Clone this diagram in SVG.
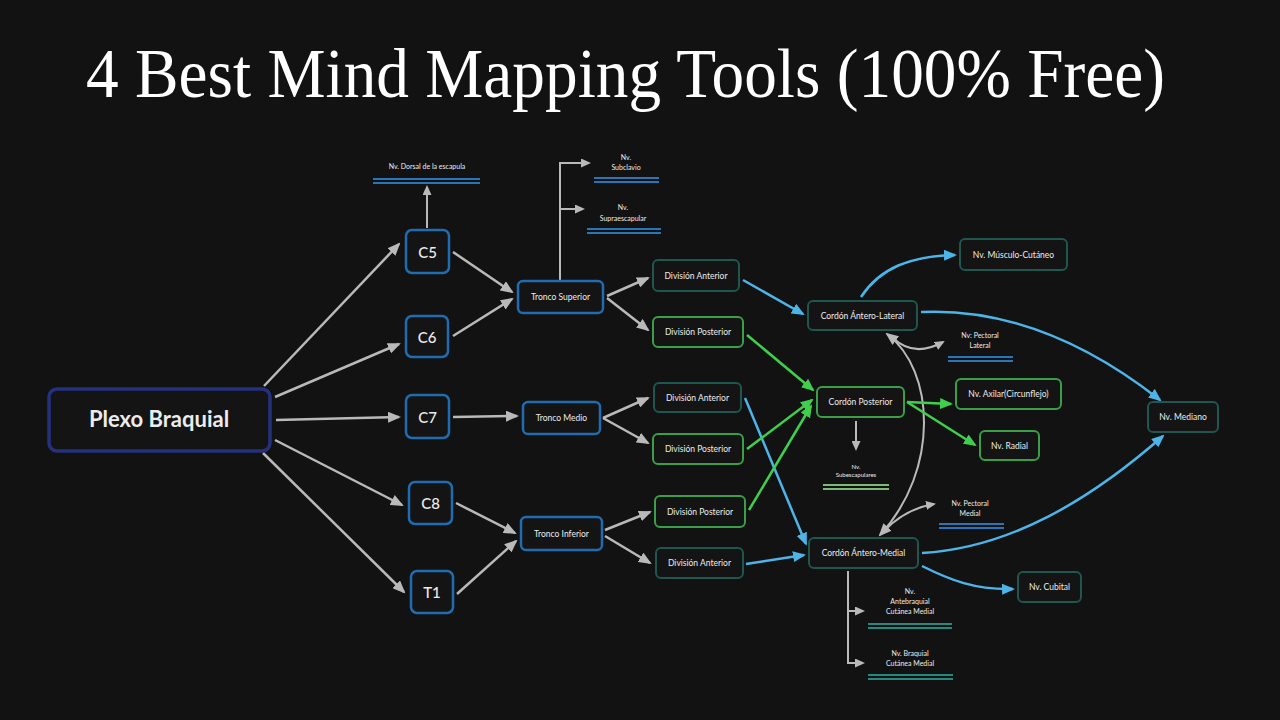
<svg xmlns="http://www.w3.org/2000/svg" width="1280" height="720" viewBox="0 0 1280 720">
<defs>
<style>
.bg{fill:#121212}
.box{fill:#141414;stroke-width:2}
.plexo{stroke:#25307f;stroke-width:3.5}
.blue{stroke:#1f6cb0;stroke-width:2.5}
.teal{stroke:#1f564f}
.green{stroke:#3b9e49}
.t{font-family:Lato,"Open Sans",sans-serif;fill:#ececec;text-anchor:middle;dominant-baseline:central}
.tc{font-size:15px;font-weight:500}
.tm{font-size:8.5px}
.ts{font-size:7px}
.cg{fill:none;stroke:#b9b9b9;stroke-width:2.5}
.cb{fill:none;stroke:#4db4e8;stroke-width:2.5}
.cgr{fill:none;stroke:#3fcf4d;stroke-width:2.5}
.cl{fill:none;stroke:#b9b9b9;stroke-width:2}
.ulb{stroke:#2a74b8;stroke-width:2}
.ulg{stroke:#7cba7a;stroke-width:2}
.ult{stroke:#26897d;stroke-width:2}
</style>
<marker id="ag" markerUnits="userSpaceOnUse" markerWidth="13" markerHeight="11" refX="11" refY="5.5" orient="auto"><path d="M0,0 L13,5.5 L0,11 z" fill="#b9b9b9"/></marker>
<marker id="ags" markerUnits="userSpaceOnUse" markerWidth="13" markerHeight="11" refX="11" refY="5.5" orient="auto-start-reverse"><path d="M0,0 L13,5.5 L0,11 z" fill="#b9b9b9"/></marker>
<marker id="ab" markerUnits="userSpaceOnUse" markerWidth="13" markerHeight="11" refX="11" refY="5.5" orient="auto"><path d="M0,0 L13,5.5 L0,11 z" fill="#4db4e8"/></marker>
<marker id="agr" markerUnits="userSpaceOnUse" markerWidth="13" markerHeight="11" refX="11" refY="5.5" orient="auto"><path d="M0,0 L13,5.5 L0,11 z" fill="#3fcf4d"/></marker>
<marker id="asm" markerUnits="userSpaceOnUse" markerWidth="10" markerHeight="9" refX="8" refY="4.5" orient="auto"><path d="M0,0 L10,4.5 L0,9 z" fill="#b9b9b9"/></marker>
</defs>
<rect class="bg" x="0" y="0" width="1280" height="720"/>
<text x="86" y="97" font-family="'Liberation Serif',serif" font-size="70" fill="#ffffff" textLength="1079" lengthAdjust="spacingAndGlyphs">4 Best Mind Mapping Tools (100% Free)</text>

<g id="connectors">
<line class="cg" x1="264" y1="386" x2="399" y2="244" marker-end="url(#ag)"/>
<line class="cg" x1="275" y1="397" x2="399" y2="344" marker-end="url(#ag)"/>
<line class="cg" x1="276" y1="420" x2="399" y2="417" marker-end="url(#ag)"/>
<line class="cg" x1="275" y1="440" x2="402" y2="505" marker-end="url(#ag)"/>
<line class="cg" x1="263" y1="453" x2="404" y2="592" marker-end="url(#ag)"/>
<line class="cg" x1="453" y1="252" x2="512" y2="292" marker-end="url(#ag)"/>
<line class="cg" x1="453" y1="336" x2="512" y2="299" marker-end="url(#ag)"/>
<line class="cg" x1="453" y1="417" x2="517" y2="416" marker-end="url(#ag)"/>
<line class="cg" x1="456" y1="503" x2="515" y2="533" marker-end="url(#ag)"/>
<line class="cg" x1="457" y1="594" x2="516" y2="541" marker-end="url(#ag)"/>
<line class="cl" x1="427" y1="228" x2="427" y2="187" marker-end="url(#asm)"/>
<path class="cl" d="M560 281 V163 H589" marker-end="url(#asm)"/>
<line class="cl" x1="560" y1="209" x2="583" y2="209" marker-end="url(#asm)"/>
<line class="cg" x1="607" y1="296" x2="648" y2="278" marker-end="url(#ag)"/>
<line class="cg" x1="607" y1="298" x2="648" y2="330" marker-end="url(#ag)"/>
<line class="cg" x1="603" y1="418" x2="648" y2="398" marker-end="url(#ag)"/>
<line class="cg" x1="603" y1="418" x2="648" y2="443" marker-end="url(#ag)"/>
<line class="cg" x1="605" y1="530" x2="650" y2="512" marker-end="url(#ag)"/>
<line class="cg" x1="605" y1="536" x2="650" y2="563" marker-end="url(#ag)"/>
<line class="cb" x1="743" y1="280" x2="803" y2="314" marker-end="url(#ab)"/>
<line class="cgr" x1="747" y1="335" x2="813" y2="390" marker-end="url(#agr)"/>
<line class="cb" x1="745" y1="398" x2="806" y2="544" marker-end="url(#ab)"/>
<line class="cgr" x1="747" y1="449" x2="812" y2="400" marker-end="url(#agr)"/>
<line class="cgr" x1="749" y1="510" x2="811" y2="406" marker-end="url(#agr)"/>
<line class="cb" x1="746" y1="564" x2="804" y2="555" marker-end="url(#ab)"/>
<path class="cb" d="M861 297 C880 268 910 256 955 255" marker-end="url(#ab)"/>
<path class="cb" d="M921 312 C1010 308 1090 345 1160 400" marker-end="url(#ab)"/>
<path class="cl" d="M893 338 Q914 358 943 342" marker-end="url(#asm)"/>
<path class="cl" d="M887 334 C935 370 940 470 880 535" marker-start="url(#ags)" marker-end="url(#ags)"/>
<path class="cl" d="M884 531 Q905 509 934 504" marker-end="url(#asm)"/>
<line class="cgr" x1="907" y1="402" x2="951" y2="404" marker-end="url(#agr)"/>
<line class="cgr" x1="907" y1="402" x2="975" y2="445" marker-end="url(#agr)"/>
<line class="cl" x1="856" y1="421" x2="856" y2="449" marker-end="url(#asm)"/>
<path class="cb" d="M922 553 C1010 548 1090 500 1163 436" marker-end="url(#ab)"/>
<path class="cb" d="M922 566 C950 580 975 590 1013 589" marker-end="url(#ab)"/>
<path class="cl" d="M848 571 V663 H863" marker-end="url(#asm)"/>
<line class="cl" x1="848" y1="611" x2="863" y2="611" marker-end="url(#asm)"/>
</g>

<g id="plexo"><rect class="box plexo" x="49" y="389" width="221" height="62" rx="8"/><text class="t" x="159" y="418" font-family="'Open Sans',sans-serif" font-size="22" font-weight="bold">Plexo Braquial</text></g>
<g id="c5"><rect class="box blue" x="406" y="230" width="43" height="43" rx="6"/><text class="t tc" x="427.5" y="251.5">C5</text></g>
<g id="c6"><rect class="box blue" x="406" y="316" width="42" height="41" rx="6"/><text class="t tc" x="427" y="336.5">C6</text></g>
<g id="c7"><rect class="box blue" x="406" y="395" width="43" height="43" rx="6"/><text class="t tc" x="427.5" y="416.5">C7</text></g>
<g id="c8"><rect class="box blue" x="409" y="482" width="43" height="42" rx="6"/><text class="t tc" x="430.5" y="503">C8</text></g>
<g id="t1"><rect class="box blue" x="411" y="571" width="42" height="42" rx="6"/><text class="t tc" x="432" y="592">T1</text></g>

<g id="tronco-superior"><rect class="box blue" x="518" y="281" width="85" height="32" rx="5"/><text class="t tm" x="560.5" y="297">Tronco Superior</text></g>
<g id="tronco-medio"><rect class="box blue" x="523" y="402" width="77" height="32" rx="5"/><text class="t tm" x="561.5" y="418">Tronco Medio</text></g>
<g id="tronco-inferior"><rect class="box blue" x="521" y="517" width="81" height="33" rx="5"/><text class="t tm" x="561.5" y="533.5">Tronco Inferior</text></g>

<g id="div-ant-1"><rect class="box teal" x="653" y="260" width="86" height="31" rx="5"/><text class="t tm" x="696" y="275.5">División Anterior</text></g>
<g id="div-post-1"><rect class="box green" x="653" y="317" width="90" height="30" rx="5"/><text class="t tm" x="698" y="332">División Posterior</text></g>
<g id="div-ant-2"><rect class="box teal" x="654" y="383" width="87" height="29" rx="5"/><text class="t tm" x="697.5" y="397.5">División Anterior</text></g>
<g id="div-post-2"><rect class="box green" x="653" y="434" width="90" height="30" rx="5"/><text class="t tm" x="698" y="449">División Posterior</text></g>
<g id="div-post-3"><rect class="box green" x="655" y="496" width="90" height="31" rx="5"/><text class="t tm" x="700" y="511.5">División Posterior</text></g>
<g id="div-ant-3"><rect class="box teal" x="656" y="548" width="87" height="30" rx="5"/><text class="t tm" x="699.5" y="563">División Anterior</text></g>

<g id="cordon-antero-lateral"><rect class="box teal" x="808" y="301" width="109" height="29" rx="5"/><text class="t tm" x="862.5" y="315.5">Cordón Ántero-Lateral</text></g>
<g id="cordon-posterior"><rect class="box green" x="817" y="387" width="87" height="30" rx="5"/><text class="t tm" x="860.5" y="402">Cordón Posterior</text></g>
<g id="cordon-antero-medial"><rect class="box teal" x="809" y="538" width="109" height="30" rx="5"/><text class="t tm" x="863.5" y="553">Cordón Ántero-Medial</text></g>

<g id="nv-musculo-cutaneo"><rect class="box teal" x="960" y="239" width="107" height="31" rx="5"/><text class="t tm" x="1013.5" y="254.5">Nv. Músculo-Cutáneo</text></g>
<g id="nv-axilar"><rect class="box green" x="956" y="379" width="105" height="30" rx="5"/><text class="t tm" x="1008.5" y="394">Nv. Axilar(Circunflejo)</text></g>
<g id="nv-radial"><rect class="box green" x="980" y="431" width="59" height="29" rx="5"/><text class="t tm" x="1009.5" y="445.5">Nv. Radial</text></g>
<g id="nv-mediano"><rect class="box teal" x="1148" y="402" width="70" height="30" rx="5"/><text class="t tm" x="1183" y="417">Nv. Mediano</text></g>
<g id="nv-cubital"><rect class="box teal" x="1018" y="572" width="63" height="30" rx="5"/><text class="t tm" x="1049.5" y="587">Nv. Cubital</text></g>

<g id="nv-dorsal"><text class="t ts" x="427" y="166">Nv. Dorsal de la escapula</text><line class="ulb" x1="373" y1="179" x2="480" y2="179"/><line class="ulb" x1="373" y1="183" x2="480" y2="183"/></g>
<g id="nv-subclavio"><text class="t ts" x="626" y="157">Nv.</text><text class="t ts" x="626" y="167">Subclavio</text><line class="ulb" x1="594" y1="178" x2="659" y2="178"/><line class="ulb" x1="594" y1="182" x2="659" y2="182"/></g>
<g id="nv-supraescapular"><text class="t ts" x="623" y="207">Nv.</text><text class="t ts" x="623" y="218">Supraescapular</text><line class="ulb" x1="587" y1="229" x2="661" y2="229"/><line class="ulb" x1="587" y1="233" x2="661" y2="233"/></g>
<g id="nv-pectoral-lateral"><text class="t ts" x="980" y="335">Nv: Pectoral</text><text class="t ts" x="980" y="345">Lateral</text><line class="ulb" x1="948" y1="357" x2="1013" y2="357"/><line class="ulb" x1="948" y1="361" x2="1013" y2="361"/></g>
<g id="nv-subescapulares"><text class="t" x="856" y="466" font-size="6">Nv.</text><text class="t" x="856" y="474" font-size="6">Subescapulares</text><line class="ulg" x1="823" y1="485" x2="889" y2="485"/><line class="ulg" x1="823" y1="489" x2="889" y2="489"/></g>
<g id="nv-pectoral-medial"><text class="t ts" x="970" y="503">Nv. Pectoral</text><text class="t ts" x="970" y="513">Medial</text><line class="ulb" x1="939" y1="524" x2="1004" y2="524"/><line class="ulb" x1="939" y1="528" x2="1004" y2="528"/></g>
<g id="nv-antebraquial"><text class="t ts" x="910" y="591">Nv.</text><text class="t ts" x="910" y="601">Antebraquial</text><text class="t ts" x="910" y="611">Cutánea Medial</text><line class="ult" x1="868" y1="624" x2="952" y2="624"/><line class="ult" x1="868" y1="628" x2="952" y2="628"/></g>
<g id="nv-braquial"><text class="t ts" x="910" y="653">Nv. Braquial</text><text class="t ts" x="910" y="663">Cutánea Medial</text><line class="ult" x1="868" y1="675" x2="953" y2="675"/><line class="ult" x1="868" y1="679" x2="953" y2="679"/></g>
</svg>
